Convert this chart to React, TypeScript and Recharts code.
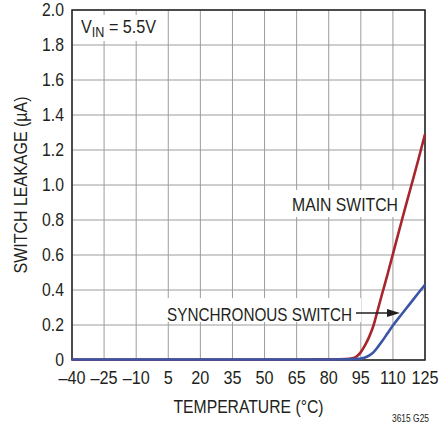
import React from "react";
import {
  LineChart,
  Line,
  XAxis,
  YAxis,
  CartesianGrid,
  ReferenceArea,
  Label,
} from "recharts";

const temps = [-40, -25, -10, 5, 20, 35, 50, 65, 80, 88, 91, 93, 95, 97, 99, 101, 103, 105, 107.5, 110, 114, 118, 122, 125];
const mainSwitch = [0.003, 0.003, 0.003, 0.003, 0.003, 0.003, 0.003, 0.003, 0.004, 0.006, 0.01, 0.02, 0.045, 0.085, 0.135, 0.2, 0.29, 0.38, 0.49, 0.605, 0.79, 0.97, 1.15, 1.29];
const syncSwitch = [0.003, 0.003, 0.003, 0.003, 0.003, 0.003, 0.003, 0.003, 0.003, 0.004, 0.005, 0.006, 0.008, 0.014, 0.026, 0.045, 0.075, 0.108, 0.153, 0.197, 0.26, 0.322, 0.384, 0.43];

const xTicks = [-40, -25, -10, 5, 20, 35, 50, 65, 80, 95, 110, 125];
const yTicks = [0, 0.2, 0.4, 0.6, 0.8, 1.0, 1.2, 1.4, 1.6, 1.8, 2.0];

const data = temps.map((t, i) => ({ t, main: mainSwitch[i], sync: syncSwitch[i] }));

const FONT = '"Liberation Sans", Arial, sans-serif';
const TEXT = "#231f20";
const SX = 0.9;

const XTick = (props: any) => {
  const { x, y, payload } = props;
  const v = payload.value as number;
  const s = v < 0 ? "\u2013" + Math.abs(v) : String(v);
  return (
    <g transform={`translate(${x},${y}) scale(${SX},1)`}>
      <text x={0} y={0} dy="0.78em" textAnchor="middle" fill={TEXT} fontSize={18} fontFamily={FONT}>
        {s}
      </text>
    </g>
  );
};

const YTick = (props: any) => {
  const { x, y, payload } = props;
  const v = payload.value as number;
  const s = v === 0 ? "0" : v.toFixed(1);
  return (
    <g transform={`translate(${x},${y}) scale(${SX},1)`}>
      <text x={0} y={0} dy="0.36em" textAnchor="end" fill={TEXT} fontSize={17.5} fontFamily={FONT}>
        {s}
      </text>
    </g>
  );
};

export default function App() {
  return (
    <div style={{ position: "absolute", left: 0, top: 0, width: 440, height: 427, background: "#fff" }}>
      <LineChart
        width={440}
        height={427}
        data={data}
        margin={{ top: 10, right: 15, left: 0, bottom: 10 }}
      >
        <CartesianGrid stroke="#9c9c9c" strokeWidth={1} />
        <XAxis
          dataKey="t"
          type="number"
          domain={[-40, 125]}
          ticks={xTicks}
          interval={0}
          height={57}
          axisLine={false}
          tickLine={false}
          tickMargin={4}
          tick={<XTick />}
        >
          <Label
            value="TEMPERATURE (°C)"
            position="insideBottom"
            offset={4}
            style={{ fill: TEXT, fontSize: 18, fontFamily: FONT }}
            textLength={150}
            lengthAdjust="spacingAndGlyphs"
          />
        </XAxis>
        <YAxis
          type="number"
          domain={[0, 2]}
          ticks={yTicks}
          interval={0}
          width={72}
          axisLine={false}
          tickLine={false}
          tick={<YTick />}
        >
          <Label
            value="SWITCH LEAKAGE (µA)"
            angle={-90}
            position="insideLeft"
            offset={21}
            style={{ fill: TEXT, fontSize: 18, fontFamily: FONT, textAnchor: "middle" }}
            textLength={177}
            lengthAdjust="spacingAndGlyphs"
          />
        </YAxis>
        <ReferenceArea x1={-40} x2={125} y1={0} y2={2} fill="none" stroke={TEXT} strokeWidth={1.5} fillOpacity={0} />
        <Line
          type="monotone"
          dataKey="main"
          stroke="#a8252c"
          strokeWidth={2.6}
          dot={false}
          isAnimationActive={false}
        />
        <Line
          type="monotone"
          dataKey="sync"
          stroke="#3b55a6"
          strokeWidth={2.6}
          dot={false}
          isAnimationActive={false}
        />
      </LineChart>
      <svg
        width={440}
        height={427}
        style={{ position: "absolute", left: 0, top: 0, pointerEvents: "none" }}
      >
        <rect x={73} y={15} width={92} height={26} fill="#fff" />
        <g transform={`translate(81,33) scale(${SX},1)`}>
          <text x={0} y={0} fill={TEXT} fontSize={18} fontFamily={FONT}>
            V<tspan fontSize={14} dy={4}>IN</tspan>
            <tspan dy={-4}> = 5.5V</tspan>
          </text>
        </g>
        <rect x={286} y={190} width={114} height={27} fill="#fff" />
        <text x={292} y={211} fill={TEXT} fontSize={18} fontFamily={FONT} textLength={106} lengthAdjust="spacingAndGlyphs">MAIN SWITCH</text>
        <rect x={161} y={298} width={200} height={24} fill="#fff" />
        <text x={167} y={321} fill={TEXT} fontSize={18} fontFamily={FONT} textLength={185} lengthAdjust="spacingAndGlyphs">SYNCHRONOUS SWITCH</text>
        <line x1={356} y1={313} x2={392} y2={313} stroke={TEXT} strokeWidth={1.3} />
        <polygon points="400,313 387,309 387,317" fill={TEXT} />
        <text x={392} y={422} fill={TEXT} fontSize={11} fontFamily={FONT} textLength={37} lengthAdjust="spacingAndGlyphs">3615 G25</text>
      </svg>
    </div>
  );
}
